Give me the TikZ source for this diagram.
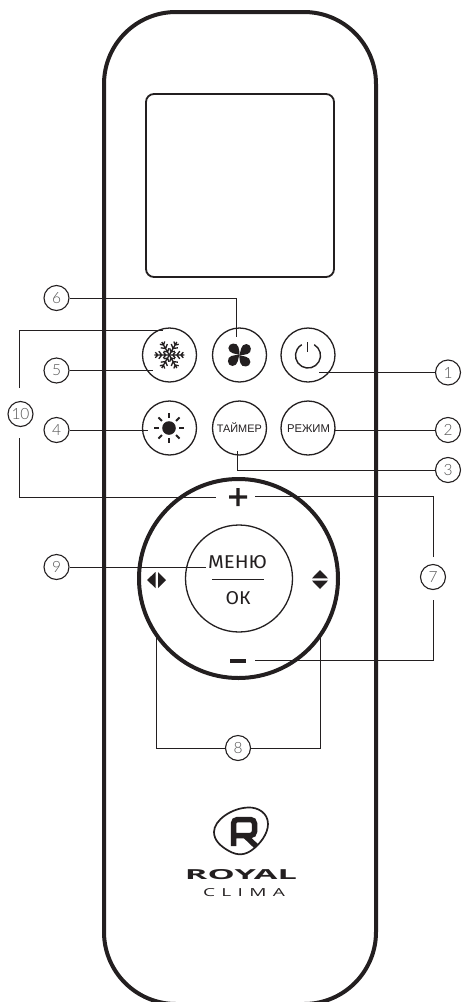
\documentclass[tikz,border=0pt]{standalone}
\usepackage{fontspec}
\setmainfont{Liberation Sans}
\newfontfamily\labf{Lato Light}
\newfontfamily\medf{Fira Sans}
\newfontfamily\logof{Open Sans}
\definecolor{ink}{HTML}{231F20}
\definecolor{labgray}{HTML}{555555}
\tikzset{
  body/.style={draw=ink,line width=4pt},
  screen/.style={draw=ink,line width=1.8pt,rounded corners=8pt},
  btn/.style={circle,draw=ink,line width=1.3pt,minimum size=54pt,inner sep=0pt},
  lab/.style={circle,draw=ink,line width=1.1pt,minimum size=25pt,inner sep=0pt,text=labgray,font=\labf\fontsize{15.5}{15.5}\selectfont},
  conn/.style={draw=ink,line width=1pt},
  txt/.style={inner sep=0pt,text=ink},
}
\begin{document}
\begin{tikzpicture}[x=1pt,y=-1pt]
\useasboundingbox (0,0) rectangle (461,1002);
\clip (0,0) rectangle (461,1002);
\fill[white] (0,0) rectangle (461,1002);
% labels
\node[lab] (l1) at (448,372.5) {1};
\node[lab] (l2) at (448,430) {2};
\node[lab] (l3) at (448,470) {3};
\node[lab] (l4) at (56.5,430) {4};
\node[lab] (l5) at (56.5,370.5) {5};
\node[lab] (l6) at (56.5,298) {6};
\node[lab] (l7) at (433,577) {7};
\node[lab] (l8) at (238,748) {8};
\node[lab] (l9) at (56.5,567) {9};
\node[lab] (l10) at (20.5,414) {10};
% buttons
\node[btn] (snow) at (169.5,355) {};
\node[btn] (fan) at (239.5,355) {};
\node[btn] (power) at (308,355) {};
\node[btn] (sun) at (169.5,428) {};
\node[btn] (timer) at (239.5,428) {};
\node[btn] (mode) at (308,428) {};
\node[txt,anchor=base] (timertxt) at (239.3,432) {\resizebox{45pt}{!}{ТАЙМЕР}};
\node[txt,anchor=base] (modetxt) at (308.5,432) {\resizebox{43pt}{!}{РЕЖИМ}};
% pad
\node[circle,draw=ink,line width=4pt,minimum size=199pt,inner sep=0pt] (pad) at (238.5,578.5) {};
\node[circle,draw=ink,line width=1.3pt,minimum size=107pt,inner sep=0pt] (ok) at (239,578.5) {};
\node[txt] (menu) at (237.5,562) {\resizebox{59pt}{13pt}{\medf МЕНЮ}};
\node[txt] (oktxt) at (238,598.5) {\resizebox{25pt}{13pt}{\medf ОК}};
\coordinate (sepl) at (212,579);
\coordinate (sepr) at (264,579);
\draw[conn] (sepl) -- (sepr);
% plus, minus, arrows
\fill[ink] (229,495.3) rectangle (247,498.7) (236.3,488) rectangle (239.7,506);
\fill[ink] (230,659) rectangle (246,663);
\fill[ink] (147,580) -- (155.5,572) -- (155.5,588) -- cycle;
\fill[ink] (166,580) -- (158,572) -- (158,588) -- cycle;
\fill[ink] (320,570) -- (328,578.3) -- (312,578.3) -- cycle;
\fill[ink] (320,589) -- (328,580.7) -- (312,580.7) -- cycle;
% connectors
\coordinate (c1) at (319,372.5);
\coordinate (c2) at (334,430);
\coordinate (c3) at (237.7,451);
\coordinate (c4) at (148,430);
\coordinate (c5) at (153,370.5);
\coordinate (c6) at (236.5,337);
\coordinate (c10s) at (19.5,388);
\coordinate (c10t) at (19.5,438);
\coordinate (c10a) at (163,330);
\coordinate (c10b) at (216,497);
\coordinate (c7s) at (433.3,557);
\coordinate (c7t) at (433.3,600);
\coordinate (c7a) at (255,496.5);
\coordinate (c7b) at (255,660.5);
\coordinate (c8a) at (156.7,637);
\coordinate (c8b) at (320,637);
\coordinate (c9) at (205.7,567);
\draw[conn] (l1.west) -- (c1);
\draw[conn] (l2.west) -- (c2);
\draw[conn] (l3.west) -| (c3);
\draw[conn] (l4.east) -- (c4);
\draw[conn] (l5.east) -- (c5);
\draw[conn] (l6.east) -| (c6);
\draw[conn] (c10s) |- (c10a);
\draw[conn] (c10t) |- (c10b);
\draw[conn] (c7s) |- (c7a);
\draw[conn] (c7t) |- (c7b);
\draw[conn] (l8.west) -| (c8a);
\draw[conn] (l8.east) -| (c8b);
\draw[conn] (l9.east) -- (c9);
% casing
\draw[body,rounded corners=72pt] (104,12) rectangle (376,1004);
\draw[screen] (146,94) rectangle (334,277);
% power icon
\draw[ink,line width=1.4pt] (314.25,344.7) arc[start angle=60,end angle=-240,radius=12.5pt];
\draw[ink,line width=1.4pt] (307.7,342) -- (307.7,352);
% fan icon
\begin{scope}[shift={(239.4,355)}]
\foreach \a in {0,90,180,270}
  \fill[ink,rotate=\a] (0,0) .. controls (-3,-1.5) and (-11,-1) .. (-11,-7) .. controls (-11,-12.5) and (-2,-13) .. (-1,-8) .. controls (-0.5,-5) and (0.5,-3) .. (0,0);
\end{scope}
% snow icon
\begin{scope}[shift={(169.3,355)}]
\foreach \a in {0,60,...,300}
  \draw[ink,line width=1.3pt,rotate=\a] (0,0) -- (15,0)
    (6,-3) -- (3.5,0) -- (6,3)
    (10.5,-3.8) -- (7.5,0) -- (10.5,3.8)
    (14,-2.8) -- (11.5,0) -- (14,2.8);
\end{scope}
% sun icon
\begin{scope}[shift={(169,428)}]
\fill[ink] (0,0) circle[radius=6.8pt];
\foreach \a in {0,45,...,315}
  \draw[ink,line width=1.8pt,rotate=\a] (10,0) -- (15,0);
\end{scope}
% logo
\draw[ink,line width=1.7pt] (248,807.5) .. controls (258,807) and (268,813) .. (268,824) .. controls (268,834) and (260,844) .. (252,850) .. controls (245,855) and (238,856) .. (229,851) .. controls (220,846) and (214,840) .. (214,832) .. controls (214,820) and (232,808) .. (248,807.5) -- cycle;
\draw[ink,line width=5.5pt,rounded corners=4pt] (233.5,846) -- (233.5,819.5) -- (254.5,819.5) -- (254.5,835.5) -- (236,835.5);
\draw[ink,line width=5.5pt] (245,835.5) -- (256.5,846.5);
\node[txt] (royal) at (241,875) {\resizebox{112pt}{10pt}{\logof\bfseries ROYAL}};
\node[txt] (clima) at (244,893) {\resizebox{82pt}{8pt}{\logof C\,\,L\,\,I\,\,M\,\,A}};
\end{tikzpicture}
\end{document}
